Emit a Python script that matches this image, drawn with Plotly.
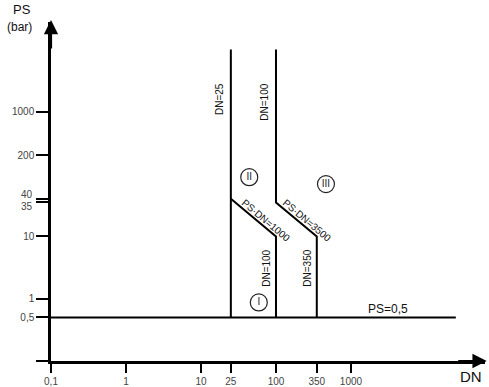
import math
import plotly.graph_objects as go

# ---- data (DN in mm, PS in bar) ----
x_tick_vals = [0.1, 1, 10, 25, 100, 350, 1000]
x_tick_text = ["0,1", "1", "10", "25", "100", "350", "1000"]
y_tick_vals = [0.1, 0.5, 1, 10, 35, 40, 200, 1000]
y_tick_text = ["", "0,5", "1", "10", "", "", "200", "1000"]

# boundary lines
ps05_dn = [0.1, 25000]
ps05_ps = [0.5, 0.5]
dn25_dn = [25, 25]
dn25_ps = [10000, 0.5]
cat1_dn = [25, 100, 100]          # PS*DN=1000 then DN=100
cat1_ps = [40, 10, 0.5]
cat2_dn = [100, 100, 350, 350]    # DN=100, PS*DN=3500, DN=350
cat2_ps = [10000, 35, 10, 0.5]

# category markers
cat_labels = ["I", "II", "III"]
cat_dn = [59, 44, 464]
cat_ps = [0.87, 89, 69]

FONT = "Liberation Sans, Arial, sans-serif"
L = math.log10

fig = go.Figure()
line = dict(color="black", width=2)
for xs, ys in [(ps05_dn, ps05_ps), (dn25_dn, dn25_ps), (cat1_dn, cat1_ps), (cat2_dn, cat2_ps)]:
    fig.add_trace(go.Scatter(x=xs, y=ys, mode="lines", line=line, hoverinfo="skip", showlegend=False))

fig.add_trace(go.Scatter(
    x=cat_dn, y=cat_ps, mode="markers+text", text=cat_labels, textposition="middle center",
    textfont=dict(family=FONT, size=10, color="#222"),
    marker=dict(symbol="circle-open", size=17, color="#222", line=dict(width=1.2)),
    showlegend=False, hoverinfo="skip"))

ann = []
def rot(text, dn, ps, angle, size=10):
    ann.append(dict(x=L(dn), y=L(ps), xref="x", yref="y", text=text, showarrow=False,
                    textangle=angle, xanchor="center", yanchor="middle",
                    font=dict(family=FONT, size=size, color="#111")))

rot("DN=25", 17.4, 1600, -90)
rot("DN=100", 71, 1440, -90)
rot("DN=100", 73, 3.1, -90)
rot("DN=350", 256, 3.1, -90)
rot("PS·DN=1000", 73.6, 17.7, 40)
rot("PS·DN=3500", 259, 17.7, 40)
rot("PS=0,5", 3070, 0.685, 0, size=12)

# separated tick labels for 35 / 40
for v, txt, sh in [(40, "40", 4), (35, "35", -4.5)]:
    ann.append(dict(x=-0.037, y=L(v), xref="paper", yref="y", text=txt, showarrow=False,
                    xanchor="right", yanchor="middle", yshift=sh,
                    font=dict(family=FONT, size=10, color="#444")))

# axis titles
def title(text, x, y, size):
    ann.append(dict(x=x, y=y, xref="paper", yref="paper", text=text, showarrow=False,
                    xanchor="center", yanchor="middle", font=dict(family=FONT, size=size, color="#111")))

title("DN", 0.968, -0.047, 15)
title("PS", -0.067, 1.036, 13)
title("(bar)", -0.072, 0.985, 12)

# arrowheads on axes
ann.append(dict(x=1.004, y=0, xref="paper", yref="paper", ax=-30, ay=0, axref="pixel", ayref="pixel",
                text="", showarrow=True, arrowhead=2, arrowsize=1.3, arrowwidth=2.2, arrowcolor="black"))
ann.append(dict(x=0, y=1.006, xref="paper", yref="paper", ax=0, ay=30, axref="pixel", ayref="pixel",
                text="", showarrow=True, arrowhead=2, arrowsize=1.3, arrowwidth=2.2, arrowcolor="black"))

axis_common = dict(type="log", showgrid=False, zeroline=False, showline=True, linecolor="black",
                   linewidth=2.5, ticks="outside", tickcolor="black", tickwidth=1.5, automargin=False,
                   tickfont=dict(family=FONT, size=10, color="#444"))

fig.update_layout(
    width=489, height=387, margin=dict(l=51, r=4, t=22, b=26),
    paper_bgcolor="white", plot_bgcolor="white",
    xaxis=dict(range=[-1, 4.787], tickvals=x_tick_vals, ticktext=x_tick_text, ticklen=9, **axis_common),
    yaxis=dict(range=[-1, 4.44], tickvals=y_tick_vals, ticktext=y_tick_text, ticklen=12, **axis_common),
    annotations=ann,
)

fig.write_html("out.html", config={"displayModeBar": False},
               post_script="document.body.style.margin='0';document.body.style.overflow='hidden';")
